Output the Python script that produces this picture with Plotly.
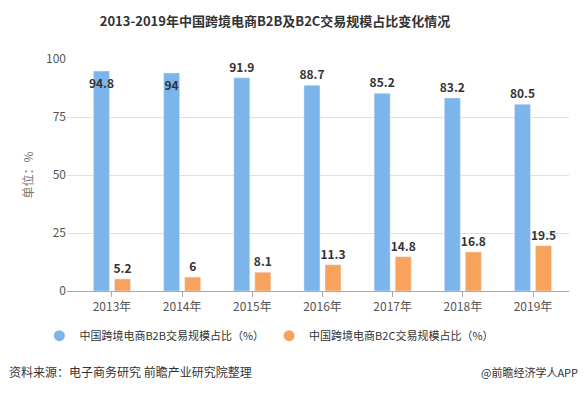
import plotly.graph_objects as go

years = ["2013年", "2014年", "2015年", "2016年", "2017年", "2018年", "2019年"]
b2b = [94.8, 94, 91.9, 88.7, 85.2, 83.2, 80.5]
b2c = [5.2, 6, 8.1, 11.3, 14.8, 16.8, 19.5]
b2b_name = "中国跨境电商B2B交易规模占比（%）"
b2c_name = "中国跨境电商B2C交易规模占比（%）"
blue = "#7cb5ec"
orange = "#f7a35c"
FONT = "Noto Sans CJK SC"

b2b_pos = ["inside" if v > 93 else "outside" for v in b2b]
lab_font = dict(family=FONT, size=12, color="#333333", weight="bold")

fig = go.Figure()
fig.add_trace(go.Bar(
    x=years, y=b2b, name=b2b_name, marker_color=blue, showlegend=False,
    text=[str(v) for v in b2b], textposition=b2b_pos, insidetextanchor="end",
    textangle=0, constraintext="none", cliponaxis=False,
    textfont=lab_font, insidetextfont=lab_font, outsidetextfont=lab_font,
))
fig.add_trace(go.Bar(
    x=years, y=b2c, name=b2c_name, marker_color=orange, showlegend=False,
    text=[str(v) for v in b2c], textposition="outside", textangle=0,
    constraintext="none", cliponaxis=False,
    textfont=lab_font, outsidetextfont=lab_font,
))
# legend entries with circular markers
for nm, col in [(b2b_name, blue), (b2c_name, orange)]:
    fig.add_trace(go.Scatter(x=[None], y=[None], mode="markers", name=nm,
                             marker=dict(color=col, size=11, symbol="circle")))

fig.update_layout(
    width=584, height=393,
    margin=dict(l=67, r=15, t=59, b=102),
    paper_bgcolor="white", plot_bgcolor="white",
    barmode="group", bargap=0.4, bargroupgap=0.24,
    font=dict(family=FONT, size=12, color="#555555"),
    title=dict(text="<b>2013-2019年中国跨境电商B2B及B2C交易规模占比变化情况</b>",
               xref="container", x=0.471, xanchor="center", y=0.945, yanchor="middle",
               font=dict(family=FONT, size=13, color="#333333")),
    legend=dict(orientation="h", x=-0.055, xanchor="left", y=-0.13, yanchor="top",
                font=dict(family=FONT, size=11, color="#333333"),
                itemwidth=30, tracegroupgap=0),
    xaxis=dict(range=[-0.641, 6.513], showgrid=False, showline=True,
               linecolor="#aaaaaa", linewidth=1,
               ticks="outside", ticklen=5, tickcolor="#aaaaaa",
               tickfont=dict(size=12, color="#555555")),
    yaxis=dict(range=[0, 100], tickvals=[0, 25, 50, 75, 100], showgrid=True,
               gridcolor="#e0e0e0", zeroline=False, showline=False,
               tickfont=dict(size=12, color="#555555"), automargin=False,
               title=dict(text="单位：%", font=dict(size=12, color="#777777"), standoff=9)),
    annotations=[
        dict(text="资料来源：电子商务研究 前瞻产业研究院整理", xref="paper", yref="paper",
             x=-0.12, y=-0.349, xanchor="left", yanchor="middle", showarrow=False,
             font=dict(family=FONT, size=12, color="#333333")),
        dict(text="@前瞻经济学人APP", xref="paper", yref="paper",
             x=1.022, y=-0.349, xanchor="right", yanchor="middle", showarrow=False,
             font=dict(family=FONT, size=11, color="#333333")),
    ],
)

fig.write_html("out.html", config={"displayModeBar": False},
               post_script="document.body.style.margin='0';")
